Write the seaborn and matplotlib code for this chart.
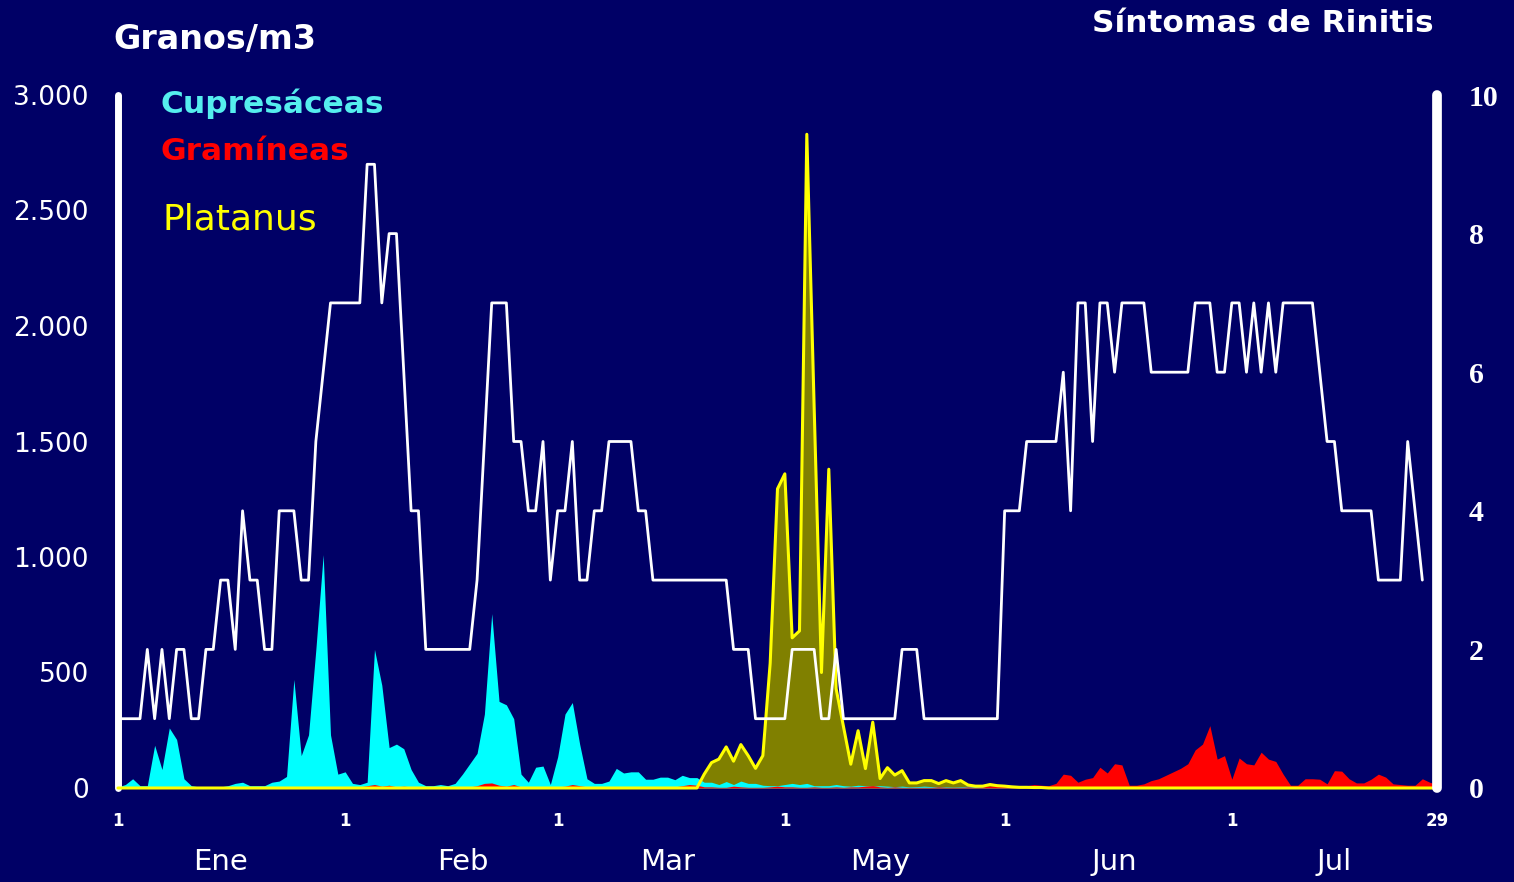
import numpy as np
import pandas as pd
import seaborn as sns
import matplotlib.pyplot as plt

# granos/m3 por dia, desde el 1 de enero (dia 0) hasta el 29 de junio (dia 180)
cupresaceas = [5, 15, 40, 10, 10, 185, 80, 260, 210, 40,
               10, 5, 5, 5, 5, 10, 20, 25, 10, 10,
               10, 25, 30, 50, 470, 140, 230, 600, 1010, 230,
               60, 70, 20, 15, 25, 600, 445, 175, 190, 170,
               80, 25, 10, 10, 15, 10, 20, 60, 105, 150,
               320, 755, 375, 360, 300, 60, 25, 90, 95, 15,
               135, 320, 370, 190, 40, 20, 20, 30, 85, 65,
               70, 70, 38, 38, 47, 47, 36, 55, 45, 45,
               25, 25, 15, 28, 15, 30, 20, 20, 12, 10,
               10, 15, 20, 15, 20, 10, 10, 10, 15, 10,
               8, 12, 10, 8, 10, 8, 6, 8, 5, 6,
               8, 6, 5, 5, 4, 5, 8, 10, 6, 5,
               6, 4, 5, 4, 3, 4, 3, 3, 4, 3,
               3, 2, 3, 2, 2, 3, 2, 2, 2, 3,
               2, 2, 2, 1, 2, 2, 1, 1, 2, 1,
               1, 1, 1, 2, 1, 1, 1, 1, 1, 1,
               1, 1, 1, 1, 1, 1, 1, 1, 1, 1,
               1, 1, 1, 1, 1, 1, 1, 1, 1, 1,
               1]

gramineas = [0, 0, 0, 0, 0, 0, 0, 0, 0, 0,
             0, 0, 0, 0, 0, 0, 0, 0, 0, 0,
             0, 0, 0, 0, 0, 0, 2, 3, 5, 3,
             2, 2, 3, 5, 10, 15, 8, 12, 5, 8,
             5, 3, 3, 2, 2, 3, 3, 3, 5, 10,
             20, 22, 12, 8, 15, 5, 3, 3, 5, 3,
             5, 8, 15, 10, 5, 3, 3, 3, 2, 2,
             3, 3, 3, 3, 3, 5, 5, 10, 15, 12,
             5, 5, 3, 3, 8, 5, 3, 3, 3, 5,
             8, 5, 5, 3, 3, 5, 3, 3, 5, 3,
             5, 5, 8, 10, 5, 3, 5, 3, 3, 3,
             3, 3, 5, 3, 3, 3, 5, 3, 5, 8,
             8, 10, 8, 8, 10, 15, 12, 10, 20, 60,
             55, 25, 38, 45, 90, 65, 105, 100, 12, 12,
             18, 32, 40, 55, 70, 85, 105, 165, 190, 270,
             125, 140, 38, 130, 105, 100, 155, 125, 115, 60,
             12, 12, 40, 40, 38, 18, 75, 73, 40, 22,
             22, 38, 60, 47, 18, 15, 12, 12, 40, 25,
             15]

platanus = [0, 0, 0, 0, 0, 0, 0, 0, 0, 0,
            0, 0, 0, 0, 0, 0, 0, 0, 0, 0,
            0, 0, 0, 0, 0, 0, 0, 0, 0, 0,
            0, 0, 0, 0, 0, 0, 0, 0, 0, 0,
            0, 0, 0, 0, 0, 0, 0, 0, 0, 0,
            0, 0, 0, 0, 0, 0, 0, 0, 0, 0,
            0, 0, 0, 0, 0, 0, 0, 0, 0, 0,
            0, 0, 0, 0, 0, 0, 0, 0, 0, 0,
            60, 110, 125, 178, 116, 188, 140, 85, 140, 540,
            1295, 1360, 650, 680, 2830, 1650, 500, 1380, 430, 266,
            103, 248, 84, 285, 41, 88, 56, 75, 22, 22,
            32, 32, 19, 32, 22, 32, 13, 8, 8, 15,
            10, 8, 5, 3, 3, 2, 2, 0, 0, 0,
            0, 0, 0, 0, 0, 0, 0, 0, 0, 0,
            0, 0, 0, 0, 0, 0, 0, 0, 0, 0,
            0, 0, 0, 0, 0, 0, 0, 0, 0, 0,
            0, 0, 0, 0, 0, 0, 0, 0, 0, 0,
            0, 0, 0, 0, 0, 0, 0, 0, 0, 0,
            0]

# puntuacion de sintomas de rinitis (0-10), dias 0..178
sintomas = [1, 1, 1, 1, 2, 1, 2, 1, 2, 2,
            1, 1, 2, 2, 3, 3, 2, 4, 3, 3,
            2, 2, 4, 4, 4, 3, 3, 5, 6, 7,
            7, 7, 7, 7, 9, 9, 7, 8, 8, 6,
            4, 4, 2, 2, 2, 2, 2, 2, 2, 3,
            5, 7, 7, 7, 5, 5, 4, 4, 5, 3,
            4, 4, 5, 3, 3, 4, 4, 5, 5, 5,
            5, 4, 4, 3, 3, 3, 3, 3, 3, 3,
            3, 3, 3, 3, 2, 2, 2, 1, 1, 1,
            1, 1, 2, 2, 2, 2, 1, 1, 2, 1,
            1, 1, 1, 1, 1, 1, 1, 2, 2, 2,
            1, 1, 1, 1, 1, 1, 1, 1, 1, 1,
            1, 4, 4, 4, 5, 5, 5, 5, 5, 6,
            4, 7, 7, 5, 7, 7, 6, 7, 7, 7,
            7, 6, 6, 6, 6, 6, 6, 7, 7, 7,
            6, 6, 7, 7, 6, 7, 6, 7, 6, 7,
            7, 7, 7, 7, 6, 5, 5, 4, 4, 4,
            4, 4, 3, 3, 3, 3, 5, 4, 3]

dias_tick = [0, 31, 60, 91, 121, 152, 180]
etiquetas_dia = ['1', '1', '1', '1', '1', '1', '29']
meses = ['Ene', 'Feb', 'Mar', 'May', 'Jun', 'Jul']
pos_meses = [14, 47, 75, 104, 136, 166]
ticks_granos = [0, 500, 1000, 1500, 2000, 2500, 3000]
etiquetas_granos = ['0', '500', '1.000', '1.500', '2.000', '2.500', '3.000']
ticks_sintomas = [0, 2, 4, 6, 8, 10]

fondo = '#000066'

sns.set_style('dark', {'axes.facecolor': fondo, 'figure.facecolor': fondo})
plt.rcParams['font.family'] = ['DejaVu Sans']

df = pd.DataFrame({'dia': np.arange(len(cupresaceas)),
                   'cupre': cupresaceas, 'grami': gramineas, 'plata': platanus})
df_s = pd.DataFrame({'dia': np.arange(len(sintomas)), 'sint': sintomas})

fig = plt.figure(figsize=(15.14, 8.82), dpi=100)
ax = fig.add_axes([118/1514, 94/882, 1319/1514, 693/882])

ax.fill_between(df.dia, df.plata, color='#808000', lw=0, zorder=1)
ax.fill_between(df.dia, df.cupre, color='#00FFFF', lw=0, zorder=2)
ax.fill_between(df.dia, df.grami, color='#FF0000', lw=0, zorder=3)
sns.lineplot(data=df, x='dia', y='plata', ax=ax, color='#FFFF00', lw=2.2,
             zorder=4, clip_on=False)

ax2 = ax.twinx()
sns.lineplot(data=df_s, x='dia', y='sint', ax=ax2, color='white', lw=2)

ax.set_xlim(0, 180)
ax.set_ylim(0, 3000)
ax2.set_ylim(0, 10)
for a in (ax, ax2):
    a.set_xlabel('')
    a.set_ylabel('')
    a.grid(False)
    for s in a.spines.values():
        s.set_visible(False)

ax.spines['left'].set_visible(True)
ax.spines['left'].set_color('white')
ax.spines['left'].set_linewidth(5)
ax.spines['left'].set_capstyle('round')
ax2.spines['right'].set_visible(True)
ax2.spines['right'].set_color('white')
ax2.spines['right'].set_linewidth(7)
ax2.spines['right'].set_capstyle('round')

ax.set_yticks(ticks_granos, etiquetas_granos)
ax.tick_params(axis='y', length=0, pad=21, labelsize=19, labelcolor='white')
ax.set_xticks(dias_tick, etiquetas_dia)
ax.tick_params(axis='x', length=0, pad=17, labelsize=12, labelcolor='white')
for lbl in ax.get_xticklabels():
    lbl.set_fontweight('bold')

ax2.set_yticks(ticks_sintomas)
ax2.tick_params(axis='y', length=0, pad=23, labelsize=21.5, labelcolor='white')
for lbl in ax2.get_yticklabels():
    lbl.set_family('Liberation Serif')
    lbl.set_fontweight('bold')

for m, p in zip(meses, pos_meses):
    ax.text(p, -0.107, m, transform=ax.get_xaxis_transform(), ha='center',
            va='center', color='white', fontsize=21)

fig.text(113/1514, 1 - 40/882, 'Granos/m3', ha='left', va='center',
         color='white', fontsize=24, fontweight='bold')
fig.text(1434/1514, 1 - 23/882, 'Síntomas de Rinitis', ha='right', va='center',
         color='white', fontsize=22.5, fontweight='bold')
fig.text(160/1514, 1 - 104/882, 'Cupresáceas', ha='left', va='center',
         color='#55EEEE', fontsize=22.5, fontweight='bold')
fig.text(160/1514, 1 - 152/882, 'Gramíneas', ha='left', va='center',
         color='#FF0000', fontsize=22.5, fontweight='bold')
fig.text(162/1514, 1 - 220/882, 'Platanus', ha='left', va='center',
         color='#FFFF00', fontsize=26)

fig.savefig('out.png', dpi=100, facecolor=fondo)
